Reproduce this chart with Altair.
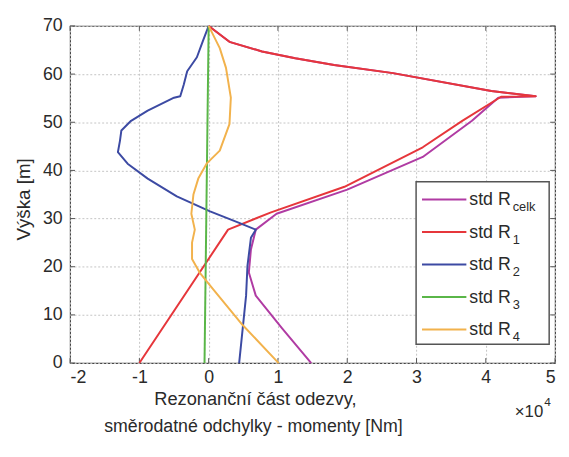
import altair as alt
import pandas as pd

# ---------------- data (x in 1e4 Nm, y = height in m) ----------------
series = ["std R_celk", "std R_1", "std R_2", "std R_3", "std R_4"]
colors = ["#b03ba3", "#e6363b", "#3c4aa3", "#5ab648", "#f2b24c"]
sub_labels = ["celk", "1", "2", "3", "4"]

rcelk_x = [1.48, 1.06, 0.68, 0.58, 0.61, 0.68, 0.98, 2.00, 3.09, 3.80, 4.18, 4.72, 4.08, 2.66, 1.81, 1.25, 0.77, 0.30, 0.11, 0.0]
rcelk_y = [0.0, 7.2, 14.0, 18.8, 23.6, 27.7, 31.0, 36.0, 42.8, 50.3, 55.1, 55.4, 56.5, 60.2, 61.9, 63.3, 64.7, 66.7, 68.8, 70.0]

r1_x = [-1.0, 0.28, 0.90, 1.96, 3.09, 3.66, 4.22, 4.72, 4.08, 2.66, 1.81, 1.25, 0.77, 0.30, 0.11, 0.0]
r1_y = [0.0, 27.7, 31.3, 36.6, 44.8, 50.3, 55.3, 55.4, 56.5, 60.2, 61.9, 63.3, 64.7, 66.7, 68.8, 70.0]

r2_x = [0.44, 0.54, 0.56, 0.61, 0.68, 0.44, 0.02, -0.46, -0.88, -1.17, -1.31, -1.28, -1.26, -1.12, -0.88,
        -0.50, -0.41, -0.36, -0.31, -0.17, -0.08, 0.0]
r2_y = [0.0, 14.0, 20.2, 26.0, 27.7, 29.1, 31.5, 34.6, 38.3, 41.4, 43.8, 46.2, 48.3, 50.3, 52.4,
        55.1, 55.4, 57.8, 60.6, 63.5, 67.0, 70.0]

r3_x = [-0.06, 0.0]
r3_y = [0.0, 70.0]

r4_x = [1.01, 0.49, 0.06, -0.13, -0.24, -0.24, -0.20, -0.25, -0.22, -0.15, -0.03, 0.16, 0.30, 0.32, 0.25, 0.16, 0.0]
r4_y = [0.0, 7.9, 15.4, 18.8, 21.6, 25.0, 27.7, 31.0, 35.0, 38.3, 41.4, 44.1, 49.6, 55.1, 61.3, 65.4, 70.0]

x_ticks = [-2, -1, 0, 1, 2, 3, 4, 5]
y_ticks = [0, 10, 20, 30, 40, 50, 60, 70]

x_title = ["Rezonanční část odezvy,", "směrodatné odchylky - momenty [Nm]"]
y_title = "Výška [m]"

all_x = [rcelk_x, r1_x, r2_x, r3_x, r4_x]
all_y = [rcelk_y, r1_y, r2_y, r3_y, r4_y]

# ---------------- layout ----------------
W, H = 492, 342
FONT = "Liberation Sans, Arial, sans-serif"
TXT = "#2a2a2a"

xscale = alt.Scale(domain=[-2, 5], nice=False, zero=False)
yscale = alt.Scale(domain=[0, 70], nice=False, zero=False)

LBL = "replace(format(datum.value, 'd'), '\u2212', '-')"

xaxis = alt.Axis(values=x_ticks, labelExpr=LBL, title=None, grid=True, gridColor="#c4c4c4",
                 gridDash=[2, 2], gridWidth=1, ticks=False, domain=False,
                 labelFontSize=18, labelColor=TXT, labelFont=FONT, labelPadding=6)
yaxis = alt.Axis(values=y_ticks, labelExpr=LBL, title=None, grid=True, gridColor="#c4c4c4",
                 gridDash=[2, 2], gridWidth=1, ticks=False, domain=False,
                 labelFontSize=18, labelColor=TXT, labelFont=FONT, labelPadding=8)

layers = []

# base layer carrying axes
base_df = pd.DataFrame({"x": x_ticks[:1], "y": y_ticks[:1]})
layers.append(
    alt.Chart(base_df).mark_point(opacity=0).encode(
        x=alt.X("x:Q", scale=xscale, axis=xaxis),
        y=alt.Y("y:Q", scale=yscale, axis=yaxis),
    )
)

# inward ticks (MATLAB style)
xt = pd.DataFrame({"t": x_ticks})
yt = pd.DataFrame({"t": y_ticks})
for (a, b) in [(H, H - 5), (0, 5)]:
    layers.append(alt.Chart(xt).mark_rule(color="#555", strokeWidth=1).encode(
        x=alt.X("t:Q", scale=xscale), y=alt.value(a), y2=alt.value(b)))
for (a, b) in [(0, 5), (W, W - 5)]:
    layers.append(alt.Chart(yt).mark_rule(color="#555", strokeWidth=1).encode(
        y=alt.Y("t:Q", scale=yscale), x=alt.value(a), x2=alt.value(b)))

# data lines, drawn in MATLAB order
for name, xs, ys, col in zip(series, all_x, all_y, colors):
    df = pd.DataFrame({"x": xs, "y": ys, "i": list(range(len(xs)))})
    layers.append(
        alt.Chart(df).mark_line(color=col, strokeWidth=2, strokeJoin="round").encode(
            x=alt.X("x:Q", scale=xscale),
            y=alt.Y("y:Q", scale=yscale),
            order=alt.Order("i:Q"),
        )
    )

one = pd.DataFrame({"a": [0]})

# legend box
layers.append(alt.Chart(one).mark_rect(fill="white", stroke="#555", strokeWidth=1.5).encode(
    x=alt.value(351), x2=alt.value(486), y=alt.value(158), y2=alt.value(323)))

for k, (col, sub) in enumerate(zip(colors, sub_labels)):
    ly = 176 + 33 * k
    layers.append(alt.Chart(one).mark_rule(color=col, strokeWidth=2).encode(
        x=alt.value(357), x2=alt.value(402), y=alt.value(ly)))
    layers.append(alt.Chart(one).mark_text(text="std R", font=FONT, fontSize=18, color=TXT,
                                           align="left", baseline="alphabetic").encode(
        x=alt.value(405), y=alt.value(ly + 6)))
    layers.append(alt.Chart(one).mark_text(text=sub, font=FONT, fontSize=13, color=TXT,
                                           align="left", baseline="alphabetic").encode(
        x=alt.value(449), y=alt.value(ly + 12)))

# axis titles
layers.append(alt.Chart(one).mark_text(text=x_title[0], font=FONT, fontSize=18.5, color=TXT,
                                       align="center", baseline="alphabetic").encode(
    x=alt.value(188), y=alt.value(385)))
layers.append(alt.Chart(one).mark_text(text=x_title[1], font=FONT, fontSize=18, color=TXT,
                                       align="center", baseline="alphabetic").encode(
    x=alt.value(186), y=alt.value(412)))
layers.append(alt.Chart(one).mark_text(text=y_title, font=FONT, fontSize=19, color=TXT,
                                       align="center", baseline="middle", angle=270).encode(
    x=alt.value(-47), y=alt.value(176)))

# exponent  x10^4
layers.append(alt.Chart(one).mark_text(text="×10", font=FONT, fontSize=17, color=TXT,
                                       align="right", baseline="alphabetic").encode(
    x=alt.value(480), y=alt.value(397)))
layers.append(alt.Chart(one).mark_text(text="4", font=FONT, fontSize=12, color=TXT,
                                       align="left", baseline="alphabetic").encode(
    x=alt.value(481), y=alt.value(386)))

chart = alt.layer(*layers).properties(
    width=W, height=H,
    autosize=alt.AutoSizeParams(type="none"),
    padding={"left": 63, "top": 15, "right": 6, "bottom": 84},
    background="white",
).configure_view(stroke="#444", strokeWidth=1.2)

chart.save("out.html", embed_options={"renderer": "svg", "actions": False})
